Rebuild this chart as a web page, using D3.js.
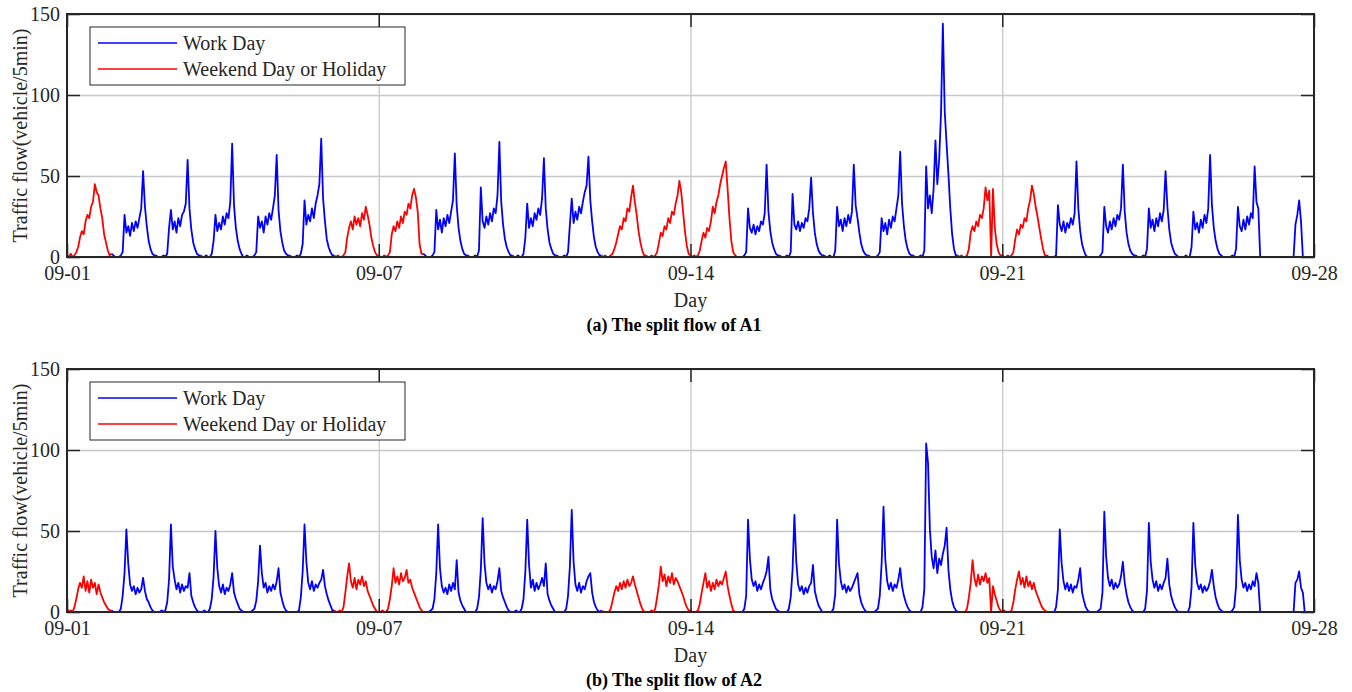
<!DOCTYPE html>
<meta charset="utf-8">
<style>
body { margin: 0; background: #fff; }
svg text { font-family: "Liberation Serif", "Times New Roman", serif; fill: #262626; }
.grid line { stroke: #c8c8c8; stroke-width: 1.3; }
.grid path, .ticks path { display: none; }
.ticks line { stroke: #262626; stroke-width: 1.5; }
.flow { fill: none; stroke-width: 1.8; stroke-linejoin: round; }
</style>
<svg width="1352" height="692"></svg>
<script src="https://cdn.jsdelivr.net/npm/d3@7"></script>
<script>

// day type for 28 days starting 09-01 (H = weekend day or holiday, W = work day)
var dayType = ["H","W","W","W","W","W","H","H","W","W","W","W","H","H",
               "H","W","W","W","W","W","H","H","W","W","W","W","W","W"];

var tickDays = [0, 7, 14, 21, 28];
var tickLabels = ["09-01", "09-07", "09-14", "09-21", "09-28"];
var yTicks = [0, 50, 100, 150];

// hourly flow (vehicle/5min), one row per day, A1
var flowA = [
  [1,0,2,0,1,3,6,12,16,14,22,26,24,31,34,45,40,38,30,24,14,9,4,1],
  [2,1,0,0,0,1,3,26,15,19,13,21,16,22,18,24,30,53,31,19,10,5,2,1],
  [1,0,0,0,1,0,2,18,29,17,22,15,24,19,26,28,33,60,30,17,9,5,2,1],
  [1,0,0,1,0,0,2,10,26,16,21,17,25,20,27,24,34,70,32,18,10,5,2,0],
  [0,1,0,0,0,1,3,25,18,22,15,25,20,27,23,30,38,63,29,16,9,4,2,1],
  [1,0,0,0,1,0,2,8,35,20,26,22,30,24,33,38,45,73,36,22,11,6,3,1],
  [1,0,1,0,0,1,3,12,18,22,17,25,20,24,19,27,23,31,26,20,12,7,3,1],
  [1,0,0,1,0,1,3,14,19,16,22,18,25,21,28,26,33,30,38,42,37,28,8,2],
  [2,1,0,0,0,1,3,29,17,23,15,24,19,26,21,28,35,64,32,18,10,5,2,1],
  [1,0,0,0,1,0,4,43,22,18,25,20,27,22,30,27,38,71,34,20,11,6,3,1],
  [1,0,0,1,0,0,2,12,33,18,24,19,27,23,30,26,36,61,30,17,9,5,2,1],
  [1,0,0,0,1,0,3,20,36,21,28,23,31,27,34,40,44,62,35,22,12,6,3,1],
  [1,0,1,0,0,1,2,5,9,14,19,17,24,22,30,28,37,44,34,26,16,9,4,1],
  [1,0,0,1,0,1,3,9,15,13,19,17,24,21,28,26,33,38,47,40,28,16,7,2],
  [1,0,1,0,1,4,10,15,12,18,16,22,31,27,34,38,45,50,55,59,42,24,10,3],
  [1,0,0,0,0,1,3,30,18,15,20,14,19,16,22,20,27,57,28,16,9,5,2,1],
  [1,0,0,0,1,0,3,39,20,17,22,16,21,18,24,22,30,49,27,15,8,4,2,1],
  [1,0,0,1,0,0,4,31,19,23,16,24,19,26,21,28,57,32,24,15,8,4,2,1],
  [1,0,0,0,0,1,3,24,16,21,14,23,18,25,22,30,38,65,33,19,10,5,2,1],
  [1,0,0,0,1,0,4,56,30,38,27,42,72,45,60,89,144,90,70,51,30,14,5,1],
  [1,0,1,0,0,1,5,15,19,16,22,19,26,24,30,43,35,41,0,42,18,8,3,1],
  [1,0,0,1,0,1,3,11,17,14,20,18,24,22,30,35,44,39,31,25,18,11,5,1],
  [1,0,0,0,0,1,32,20,16,22,15,21,18,24,20,27,59,30,16,8,4,1,0,0],
  [0,0,0,0,0,1,3,31,19,15,22,17,24,19,26,23,30,57,28,15,8,4,2,1],
  [1,0,0,0,1,0,5,30,18,23,16,24,19,27,22,29,53,31,17,9,5,2,1,0],
  [0,0,0,1,0,0,6,28,17,21,15,23,18,26,21,30,63,32,18,10,5,2,1,0],
  [0,0,0,0,1,0,5,31,19,16,23,17,25,20,27,24,56,34,30,0,0,0,0,0],
  [0,0,0,0,0,0,0,0,0,0,0,0,0,0,20,26,35,22,0,0,0,0,0,0]
];

// hourly flow (vehicle/5min), one row per day, A2
var flowB = [
  [2,0,1,0,3,8,14,18,15,22,13,19,12,20,15,18,11,17,12,9,6,4,2,1],
  [1,0,0,0,0,2,10,24,51,30,17,13,16,11,15,12,14,21,13,8,6,3,1,0],
  [0,0,0,1,0,1,6,20,54,28,20,14,18,12,17,13,16,15,24,10,6,3,1,0],
  [0,0,1,0,0,2,8,22,50,27,16,12,17,11,15,13,17,24,12,8,5,2,1,0],
  [0,0,0,0,1,2,7,19,41,24,15,18,12,16,13,17,14,19,27,12,7,3,1,0],
  [0,0,0,0,0,1,9,25,54,31,18,14,19,13,17,15,18,20,26,16,11,7,4,1],
  [1,0,0,1,0,3,12,22,30,19,15,21,14,20,17,22,16,19,13,10,7,4,2,0],
  [0,0,1,0,0,2,8,16,27,18,22,17,24,19,21,26,18,20,15,12,9,6,3,1],
  [0,0,0,0,1,2,8,24,54,27,16,12,15,11,17,13,18,14,32,12,7,4,2,0],
  [0,0,0,0,0,2,9,26,58,30,18,14,17,12,16,14,19,27,13,9,6,3,1,0],
  [0,0,1,0,0,2,8,25,57,29,15,20,13,18,14,17,21,16,30,11,7,4,2,0],
  [0,0,0,0,0,2,10,28,63,31,17,13,18,12,16,14,19,22,24,12,6,3,1,0],
  [1,0,0,0,0,2,7,12,16,13,18,14,19,15,20,16,18,22,17,13,9,5,2,0],
  [0,0,0,1,0,2,9,17,28,19,23,16,22,18,24,17,21,19,16,13,10,6,3,1],
  [1,0,0,0,1,5,12,18,24,15,19,13,18,14,20,16,19,17,21,25,16,10,5,1],
  [0,0,0,0,0,2,10,57,33,20,16,19,13,17,14,18,21,25,34,14,8,5,2,1],
  [0,0,0,0,0,2,9,26,60,31,17,13,16,11,15,12,16,18,29,13,8,4,2,0],
  [0,0,0,0,0,2,11,57,30,19,14,17,12,16,13,15,18,21,24,11,6,3,1,0],
  [0,0,0,0,1,2,10,30,65,32,19,14,18,13,17,15,20,27,16,10,6,3,1,0],
  [0,0,0,0,0,3,14,104,92,51,34,27,38,24,33,29,36,41,52,26,14,7,3,1],
  [0,0,0,0,0,2,9,18,32,21,16,23,17,22,19,24,18,21,0,16,11,7,3,1],
  [0,1,0,0,0,1,6,14,20,25,17,21,15,22,16,19,14,18,13,10,7,4,2,1],
  [0,0,0,0,0,3,14,51,30,19,14,18,13,17,12,16,15,20,27,12,7,3,1,0],
  [0,0,0,0,1,2,12,62,34,21,16,20,14,18,15,17,22,31,18,11,6,3,1,0],
  [0,0,0,0,0,2,13,55,31,20,15,19,13,17,14,18,21,33,17,10,6,3,1,0],
  [0,0,0,0,0,3,15,55,29,18,14,17,12,16,13,15,19,26,16,9,5,2,1,0],
  [0,0,0,0,1,3,16,60,32,20,15,18,13,17,14,19,16,24,18,0,0,0,0,0],
  [0,0,0,0,0,0,0,0,0,0,0,0,0,0,18,20,25,15,12,0,0,0,0,0]
];

var svg = d3.select("svg");
var left = 67, right = 1314, plotH = 243;
var serif = '"Liberation Serif", "Times New Roman", serif';
var color = { W: "#0000ff", H: "#ff0000" };
var legendItems = [["W", "Work Day"], ["H", "Weekend Day or Holiday"]];

var x = d3.scaleLinear().domain([0, 28]).range([left, right]);

var panels = [
  { flow: flowA, top: 14, caption: "(a) The split flow of A1" },
  { flow: flowB, top: 369, caption: "(b) The split flow of A2" }
];

panels.forEach(function(p) {
  var top = p.top, bottom = top + plotH;
  var y = d3.scaleLinear().domain([0, 150]).range([bottom, top]);
  var g = svg.append("g");

  // grid
  g.append("g").attr("class", "grid")
      .attr("transform", "translate(0," + bottom + ")")
      .call(d3.axisBottom(x).tickValues(tickDays).tickSize(-plotH).tickFormat(""));
  g.append("g").attr("class", "grid")
      .attr("transform", "translate(" + left + ",0)")
      .call(d3.axisLeft(y).tickValues(yTicks).tickSize(-(right - left)).tickFormat(""));

  // one path per day, joined to the next day's first sample
  var line = d3.line().x(function(d) { return x(d[0]); }).y(function(d) { return y(d[1]); });
  p.flow.forEach(function(row, day) {
    var pts = row.map(function(v, h) { return [day + h / 24, v]; });
    if (day + 1 < p.flow.length) pts.push([day + 1, p.flow[day + 1][0]]);
    g.append("path").attr("class", "flow")
        .attr("stroke", color[dayType[day]])
        .attr("d", line(pts));
  });

  // axes with inward ticks on all sides
  var xAxis = g.append("g").attr("class", "ticks")
      .attr("transform", "translate(0," + bottom + ")")
      .call(d3.axisBottom(x).tickValues(tickDays).tickSizeInner(-13).tickSizeOuter(0)
        .tickPadding(9).tickFormat(function(d, i) { return tickLabels[i]; }));
  g.append("g").attr("class", "ticks")
      .attr("transform", "translate(0," + top + ")")
      .call(d3.axisTop(x).tickValues(tickDays).tickSizeInner(-13).tickSizeOuter(0).tickFormat(""));
  var yAxis = g.append("g").attr("class", "ticks")
      .attr("transform", "translate(" + left + ",0)")
      .call(d3.axisLeft(y).tickValues(yTicks).tickSizeInner(-13).tickSizeOuter(0).tickPadding(7));
  g.append("g").attr("class", "ticks")
      .attr("transform", "translate(" + right + ",0)")
      .call(d3.axisRight(y).tickValues(yTicks).tickSizeInner(-13).tickSizeOuter(0).tickFormat(""));
  [xAxis, yAxis].forEach(function(a) {
    a.attr("font-family", serif).attr("font-size", 20);
    a.selectAll("text").style("font-family", serif).style("font-size", "20px").style("fill", "#262626");
  });

  g.append("rect")
      .attr("x", left).attr("y", top)
      .attr("width", right - left).attr("height", plotH)
      .attr("fill", "none").attr("stroke", "#262626").attr("stroke-width", 2);

  // labels
  g.append("text")
      .attr("transform", "translate(27," + (top + plotH / 2) + ") rotate(-90)")
      .attr("text-anchor", "middle").style("font-size", "20px")
      .text("Traffic flow(vehicle/5min)");
  g.append("text")
      .attr("x", (left + right) / 2).attr("y", bottom + 50)
      .attr("text-anchor", "middle").style("font-size", "20px")
      .text("Day");
  g.append("text")
      .attr("x", 674).attr("y", bottom + 74)
      .attr("text-anchor", "middle").style("font-size", "18px").style("font-weight", "bold")
      .style("fill", "#000")
      .text(p.caption);

  // legend
  var lg = g.append("g").attr("transform", "translate(90," + (top + 13) + ")");
  lg.append("rect").attr("width", 315).attr("height", 58)
      .attr("fill", "#fff").attr("stroke", "#262626").attr("stroke-width", 1);
  legendItems.forEach(function(it, i) {
    var ly = 16 + i * 26;
    lg.append("line").attr("x1", 8).attr("x2", 87).attr("y1", ly).attr("y2", ly)
        .attr("stroke", color[it[0]]).attr("stroke-width", 1.5);
    lg.append("text").attr("x", 93).attr("y", ly).attr("dy", "0.35em")
        .style("font-size", "20px").text(it[1]);
  });
});

</script>
